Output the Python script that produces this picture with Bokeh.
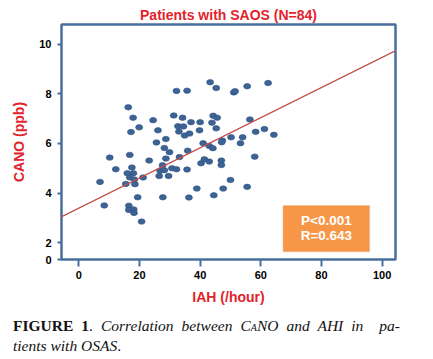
from bokeh.plotting import figure
from bokeh.models import Range1d, FixedTicker, BoxAnnotation, Label, Slope, Div
from bokeh.layouts import column
from bokeh.embed import file_html
from bokeh.resources import INLINE

# IAH (/hour)
iah = [32.2, 35.7, 43.3, 45.3, 51.1, 51.5, 55.5, 62.4, 16.3, 17.9,
       31.3, 34.2, 24.5, 19.9, 17.2, 26.1, 32.7, 34.5, 33.0, 34.9,
       36.5, 37.0, 40.0, 44.3, 45.6, 43.9, 45.3, 39.8, 56.4, 58.3,
       61.2, 64.3, 54.0, 50.2, 47.3, 47.1, 53.3, 41.0, 43.0, 44.2,
       25.6, 28.7, 28.2, 29.9, 16.8, 35.9, 10.2, 23.2, 28.7, 33.2,
       12.2, 17.5, 16.0, 18.0, 16.8, 18.3, 15.5, 18.5, 7.0, 21.2,
       27.6, 26.8, 28.2, 30.7, 32.2, 26.5, 29.6, 35.7, 19.4, 27.7,
       36.3, 38.9, 8.4, 16.5, 16.5, 18.1, 18.2, 20.7, 40.3, 41.4,
       43.0, 47.0, 47.0, 58.0, 50.0, 47.6, 55.5, 44.5]
# CANO (ppb)
cano = [8.12, 8.13, 8.47, 8.24, 8.06, 8.11, 8.31, 8.44, 7.46, 7.04,
        7.13, 7.04, 6.94, 6.65, 6.46, 6.53, 6.70, 6.69, 6.48, 6.32,
        6.40, 6.86, 6.86, 7.12, 7.04, 6.84, 6.61, 6.53, 6.97, 6.47,
        6.58, 6.35, 6.25, 6.25, 6.12, 6.05, 6.01, 6.01, 5.90, 5.81,
        6.04, 6.18, 5.82, 5.65, 5.54, 5.71, 5.43, 5.31, 5.39, 5.45,
        4.96, 5.03, 4.80, 4.80, 4.63, 4.55, 4.37, 4.36, 4.45, 4.63,
        5.12, 4.90, 4.92, 5.00, 4.96, 4.69, 4.69, 4.95, 3.83, 3.83,
        3.82, 4.18, 3.50, 3.49, 3.32, 3.34, 3.20, 2.85, 5.20, 5.36,
        5.27, 5.31, 5.13, 5.47, 4.53, 4.18, 4.25, 3.91]

fit_slope = 0.0608
fit_intercept = 3.39
x_ticks = [0, 20, 40, 60, 80, 100]
y_ticks = [1.32, 2, 4, 6, 8, 10]
y_tick_labels = {1.32: "0", 2: "2", 4: "4", 6: "6", 8: "8", 10: "10"}
title_text = "Patients with SAOS (N=84)"
x_label = "IAH (/hour)"
y_label = "CANO (ppb)"
stats_lines = ["P<0.001", "R=0.643"]

RED = "#e3232b"
BLUE = "#4a6e9c"
FONT = "Liberation Sans"

p = figure(width=425, height=307, output_backend="svg", toolbar_location=None,
           x_range=Range1d(-5.7, 104.4), y_range=Range1d(1.32, 10.8))
p.min_border_left = 61
p.min_border_right = 30
p.min_border_top = 24
p.min_border_bottom = 47
p.background_fill_color = "white"
p.border_fill_color = "white"
p.outline_line_color = BLUE
p.outline_line_width = 2.5
p.xgrid.visible = False
p.ygrid.visible = False

p.title.text = title_text
p.title.align = "center"
p.title.text_color = RED
p.title.text_font = FONT
p.title.text_font_style = "bold"
p.title.text_font_size = "14px"
p.title.standoff = 3

for ax in (p.xaxis[0], p.yaxis[0]):
    ax.axis_line_color = None
    ax.major_tick_line_color = BLUE
    ax.major_tick_line_width = 2
    ax.minor_tick_line_color = None
    ax.major_tick_in = 0
    ax.major_label_text_font = FONT
    ax.major_label_text_font_style = "bold"
    ax.major_label_text_font_size = "11px"
    ax.major_label_text_color = "black"
    ax.axis_label_text_color = RED
    ax.axis_label_text_font = FONT
    ax.axis_label_text_font_style = "bold"
    ax.axis_label_text_font_size = "14px"

p.xaxis[0].ticker = FixedTicker(ticks=x_ticks)
p.xaxis[0].major_tick_out = 7
p.xaxis[0].major_label_standoff = 4
p.xaxis[0].axis_label = x_label
p.xaxis[0].axis_label_standoff = 7

p.yaxis[0].ticker = FixedTicker(ticks=y_ticks)
p.yaxis[0].major_label_overrides = y_tick_labels
p.yaxis[0].major_tick_out = 4
p.yaxis[0].major_label_standoff = 6
p.yaxis[0].axis_label = y_label
p.yaxis[0].axis_label_standoff = 9

p.add_layout(Slope(gradient=fit_slope, y_intercept=fit_intercept,
                   line_color="#c0504d", line_width=1.3))

p.ellipse(x=iah, y=cano, width=7, height=5.5,
          width_units="screen", height_units="screen",
          fill_color="#3d6395", line_color="#2f5283", line_width=0.6)

box = BoxAnnotation(left=67.4, right=95.8, bottom=1.64, top=3.49,
                    fill_color="#f79646", fill_alpha=1.0,
                    line_color="#d9823e", line_width=1.5)
p.add_layout(box)
for txt, yy in zip(stats_lines, [2.90, 2.29]):
    p.add_layout(Label(x=81.6, y=yy, text=txt, text_align="center",
                       text_baseline="middle", text_color="white",
                       text_font=FONT, text_font_style="bold",
                       text_font_size="13.5px"))

caption_html = (
    "<div style=\"font-family:'Liberation Serif'; font-size:15.5px; line-height:18px; "
    "color:#111; width:387px;\">"
    "<div style='text-align:justify; text-align-last:justify; white-space:normal;'>"
    "<b>FIGURE 1</b>. <i>Correlation between C<span style='font-size:10px'>A</span>NO "
    "and AHI in&nbsp; pa-</i></div>"
    "<div><i>tients with OSAS</i>.</div></div>"
)
cap = Div(text=caption_html, width=400, height=40, margin=(10, 0, 0, 13))

layout = column(p, cap, spacing=0)
open("out.html", "w").write(file_html(layout, INLINE))
